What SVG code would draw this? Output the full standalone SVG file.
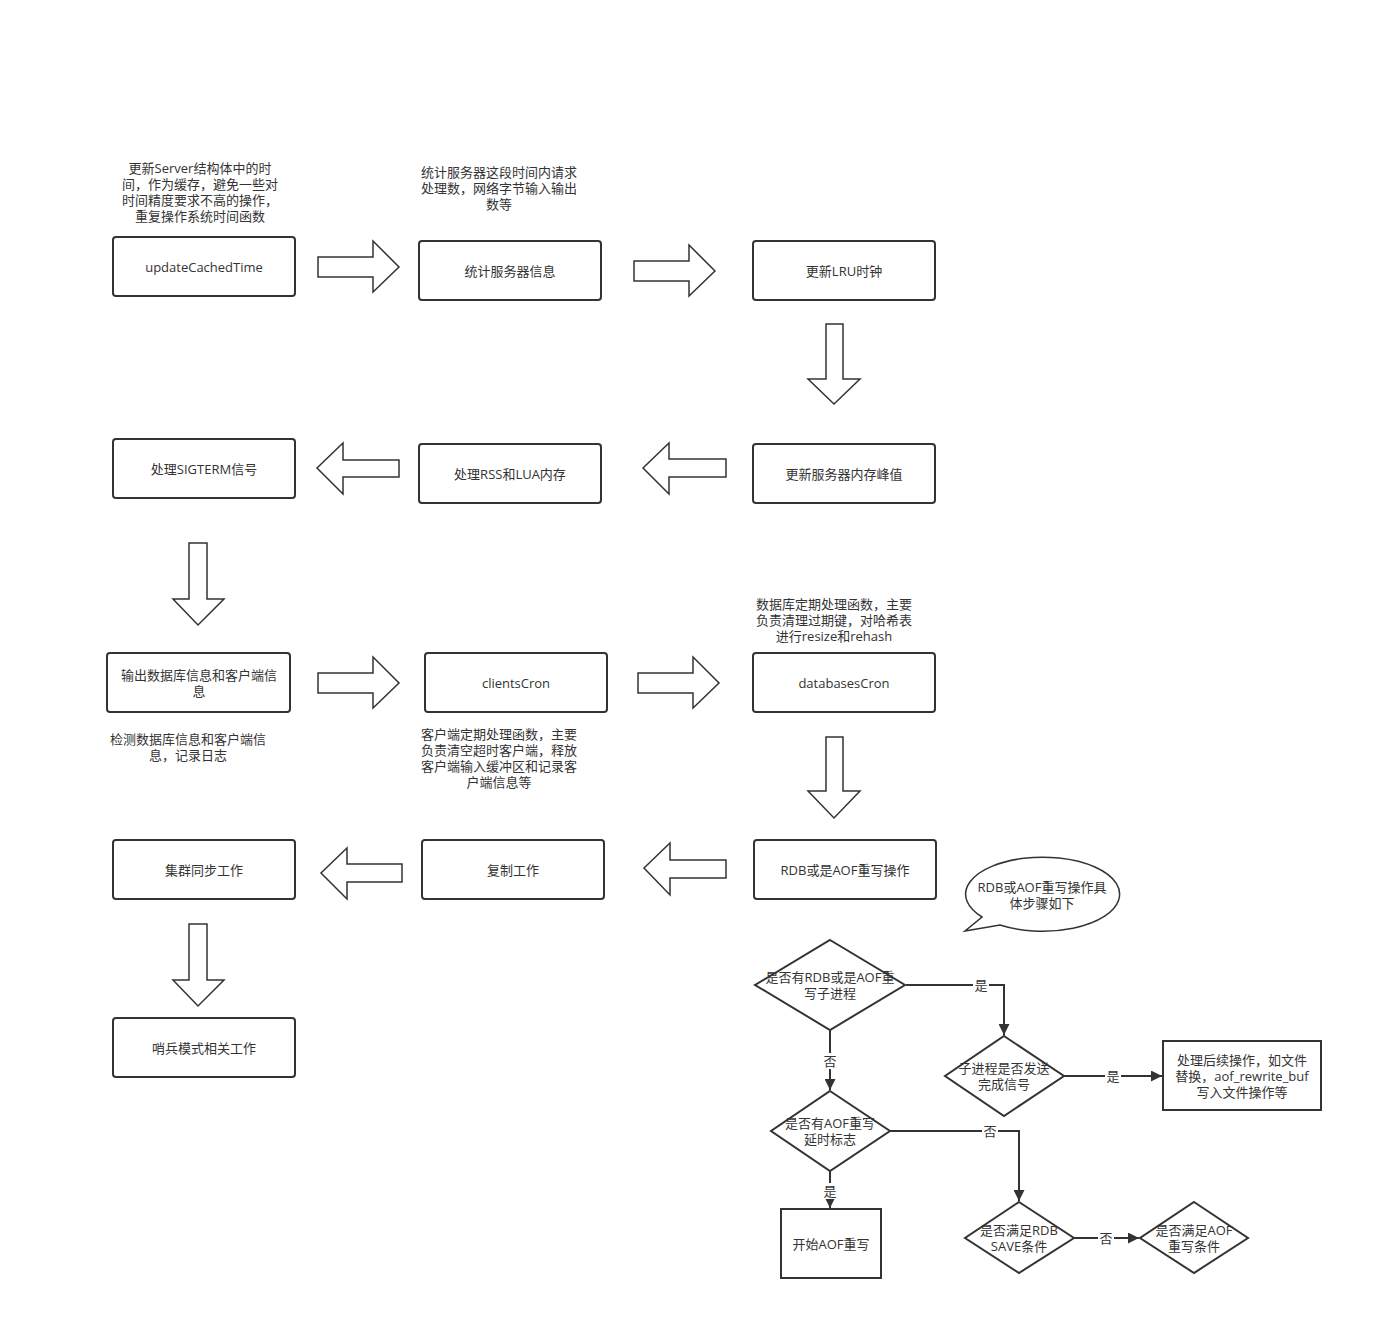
<svg xmlns="http://www.w3.org/2000/svg" width="1382" height="1341" viewBox="0 0 1382 1341">
<defs>
<style>
.box{fill:#fff;stroke:#333;stroke-width:2}
.sq{fill:#fff;stroke:#333;stroke-width:2}
.blk{fill:#fff;stroke:#333;stroke-width:1.5;stroke-linejoin:miter}
.t{font-family:"Open Sans","Noto Sans CJK SC",sans-serif;font-size:13px;fill:#333;text-anchor:middle;dominant-baseline:central}
.ln{fill:none;stroke:#333;stroke-width:2}
.lb{fill:#fff}
</style>
<marker id="ah" viewBox="0 0 10 10" refX="10" refY="5" markerWidth="6" markerHeight="5.5" orient="auto" markerUnits="strokeWidth">
<path d="M0,0 L10,5 L0,10 Z" fill="#333"/>
</marker>
</defs>
<rect width="1382" height="1341" fill="#fff"/>

<g id="connectors">
<path class="blk" d="M318,257 H373 V241 L399,267 L373,292 V277 H318 Z"/>
<path class="blk" d="M634,261 H689 V245 L715,271 L689,296 V281 H634 Z"/>
<path class="blk" d="M826,324 V379 H808 L834,404 L860,379 H843 V324 Z"/>
<path class="blk" d="M726,459 H669 V443 L643,468 L669,494 V477 H726 Z"/>
<path class="blk" d="M399,460 H343 V443 L317,468 L343,494 V477 H399 Z"/>
<path class="blk" d="M189,543 V599 H173 L198,625 L224,599 H207 V543 Z"/>
<path class="blk" d="M318,673 H373 V657 L399,683 L373,708 V693 H318 Z"/>
<path class="blk" d="M638,673 H693 V657 L719,683 L693,708 V693 H638 Z"/>
<path class="blk" d="M826,737 V791 H808 L834,818 L860,791 H843 V737 Z"/>
<path class="blk" d="M726,860 H670 V843 L644,868 L670,895 V878 H726 Z"/>
<path class="blk" d="M402,864 H347 V848 L321,873 L347,899 V882 H402 Z"/>
<path class="blk" d="M189,924 V980 H173 L198,1006 L224,980 H207 V924 Z"/>

<path class="ln" d="M906,985 H1004 V1035" marker-end="url(#ah)"/>
<rect class="lb" x="973" y="977" width="16" height="16"/>
<text class="t" x="981" y="985">是</text>
<path class="ln" d="M830,1030 V1090" marker-end="url(#ah)"/>
<rect class="lb" x="822" y="1053" width="16" height="16"/>
<text class="t" x="830" y="1061">否</text>
<path class="ln" d="M1064,1076 H1162" marker-end="url(#ah)"/>
<rect class="lb" x="1105" y="1068" width="16" height="16"/>
<text class="t" x="1113" y="1076">是</text>
<path class="ln" d="M830,1171 V1208" marker-end="url(#ah)"/>
<rect class="lb" x="822" y="1183" width="16" height="16"/>
<text class="t" x="830" y="1191">是</text>
<path class="ln" d="M890,1131 H1019 V1201" marker-end="url(#ah)"/>
<rect class="lb" x="982" y="1123" width="16" height="16"/>
<text class="t" x="990" y="1131">否</text>
<path class="ln" d="M1074,1238 H1139" marker-end="url(#ah)"/>
<rect class="lb" x="1098" y="1230" width="16" height="16"/>
<text class="t" x="1106" y="1238">否</text>
</g>

<g id="note-updateCachedTime">
<text class="t" x="200" y="168">更新Server结构体中的时</text>
<text class="t" x="200" y="184">间，作为缓存，避免一些对</text>
<text class="t" x="200" y="200">时间精度要求不高的操作，</text>
<text class="t" x="200" y="216">重复操作系统时间函数</text>
</g>
<g id="note-stats">
<text class="t" x="499" y="172">统计服务器这段时间内请求</text>
<text class="t" x="499" y="188">处理数，网络字节输入输出</text>
<text class="t" x="499" y="204">数等</text>
</g>
<g id="note-databasesCron">
<text class="t" x="834" y="604">数据库定期处理函数，主要</text>
<text class="t" x="834" y="620">负责清理过期键，对哈希表</text>
<text class="t" x="834" y="636">进行resize和rehash</text>
</g>
<g id="note-output">
<text class="t" x="188" y="739">检测数据库信息和客户端信</text>
<text class="t" x="188" y="755">息，记录日志</text>
</g>
<g id="note-clientsCron">
<text class="t" x="499" y="734">客户端定期处理函数，主要</text>
<text class="t" x="499" y="750">负责清空超时客户端，释放</text>
<text class="t" x="499" y="766">客户端输入缓冲区和记录客</text>
<text class="t" x="499" y="782">户端信息等</text>
</g>

<g id="n1"><rect class="box" x="113" y="237" width="182" height="59" rx="3"/><text class="t" x="204" y="267">updateCachedTime</text></g>
<g id="n2"><rect class="box" x="419" y="241" width="182" height="59" rx="3"/><text class="t" x="510" y="271">统计服务器信息</text></g>
<g id="n3"><rect class="box" x="753" y="241" width="182" height="59" rx="3"/><text class="t" x="844" y="271">更新LRU时钟</text></g>
<g id="n4"><rect class="box" x="753" y="444" width="182" height="59" rx="3"/><text class="t" x="844" y="474">更新服务器内存峰值</text></g>
<g id="n5"><rect class="box" x="419" y="444" width="182" height="59" rx="3"/><text class="t" x="510" y="474">处理RSS和LUA内存</text></g>
<g id="n6"><rect class="box" x="113" y="439" width="182" height="59" rx="3"/><text class="t" x="204" y="469">处理SIGTERM信号</text></g>
<g id="n7"><rect class="box" x="107" y="653" width="183" height="59" rx="3"/><text class="t" x="199" y="675">输出数据库信息和客户端信</text><text class="t" x="199" y="691">息</text></g>
<g id="n8"><rect class="box" x="425" y="653" width="182" height="59" rx="3"/><text class="t" x="516" y="683">clientsCron</text></g>
<g id="n9"><rect class="box" x="753" y="653" width="182" height="59" rx="3"/><text class="t" x="844" y="683">databasesCron</text></g>
<g id="n10"><rect class="box" x="754" y="840" width="182" height="59" rx="3"/><text class="t" x="845" y="870">RDB或是AOF重写操作</text></g>
<g id="n11"><rect class="box" x="422" y="840" width="182" height="59" rx="3"/><text class="t" x="513" y="870">复制工作</text></g>
<g id="n12"><rect class="box" x="113" y="840" width="182" height="59" rx="3"/><text class="t" x="204" y="870">集群同步工作</text></g>
<g id="n13"><rect class="box" x="113" y="1018" width="182" height="59" rx="3"/><text class="t" x="204" y="1048">哨兵模式相关工作</text></g>

<g id="callout">
<path class="blk" d="M982,917 A77,37 0 1,1 1000,925 L965,931 Z"/>
<text class="t" x="1042" y="887">RDB或AOF重写操作具</text>
<text class="t" x="1042" y="903">体步骤如下</text>
</g>

<g id="d1"><path class="sq" d="M830,940 L905,985 L830,1030 L755,985 Z"/><text class="t" x="830" y="977">是否有RDB或是AOF重</text><text class="t" x="830" y="993">写子进程</text></g>
<g id="d2"><path class="sq" d="M1004,1036 L1064,1076 L1004,1116 L945,1076 Z"/><text class="t" x="1004" y="1068">子进程是否发送</text><text class="t" x="1004" y="1084">完成信号</text></g>
<g id="b1"><rect class="sq" x="1163" y="1041" width="158" height="69"/><text class="t" x="1242" y="1060">处理后续操作，如文件</text><text class="t" x="1242" y="1076">替换，aof_rewrite_buf</text><text class="t" x="1242" y="1092">写入文件操作等</text></g>
<g id="d3"><path class="sq" d="M830,1091 L890,1131 L830,1171 L771,1131 Z"/><text class="t" x="830" y="1123">是否有AOF重写</text><text class="t" x="830" y="1139">延时标志</text></g>
<g id="b2"><rect class="sq" x="781" y="1209" width="100" height="69"/><text class="t" x="831" y="1244">开始AOF重写</text></g>
<g id="d4"><path class="sq" d="M1019,1202 L1074,1238 L1019,1273 L965,1238 Z"/><text class="t" x="1019" y="1230">是否满足RDB</text><text class="t" x="1019" y="1246">SAVE条件</text></g>
<g id="d5"><path class="sq" d="M1194,1202 L1248,1238 L1194,1273 L1140,1238 Z"/><text class="t" x="1194" y="1230">是否满足AOF</text><text class="t" x="1194" y="1246">重写条件</text></g>
</svg>
